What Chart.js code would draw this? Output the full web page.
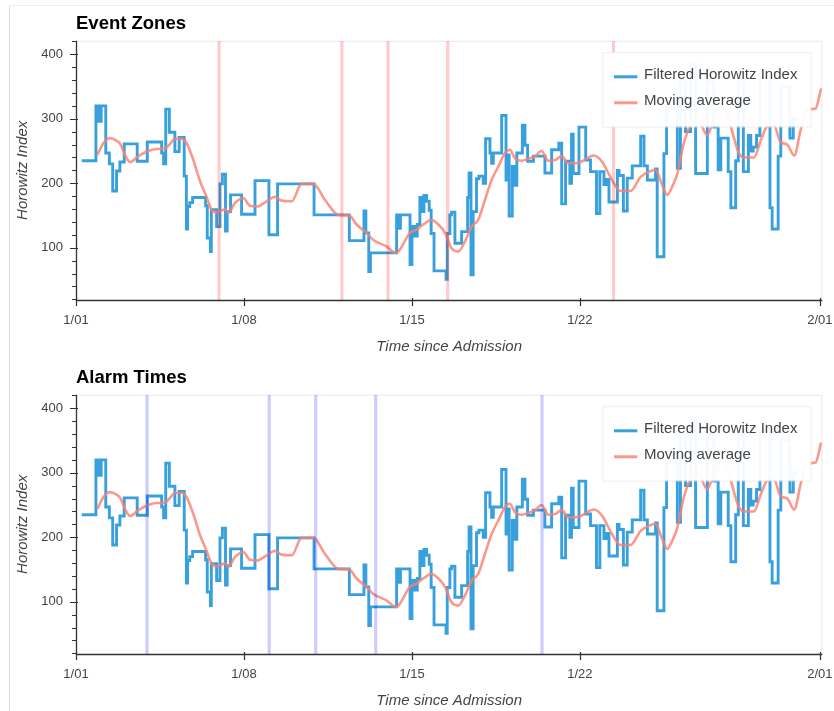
<!DOCTYPE html>
<html><head><meta charset="utf-8">
<script src="https://cdn.jsdelivr.net/npm/chart.js@4.4.1/dist/chart.umd.min.js"></script>
<style>
html,body{margin:0;padding:0;background:#fff;width:834px;height:711px;overflow:hidden;}
.frame{position:absolute;left:9px;top:5px;width:830px;height:720px;border-left:1px solid #ddd;border-top:1px solid #eee;}
.box{position:absolute;left:0;width:834px;height:354px;}
canvas{display:block;}
</style></head><body>
<div class="frame"></div>
<div class="box" style="top:0"><canvas id="c1" width="834" height="354"></canvas></div>
<div class="box" style="top:354px"><canvas id="c2" width="834" height="354"></canvas></div>
<script>
// Filtered Horowitz Index: step series (day since 1/01, value starting at that day)
const hiDays = [0.24,0.83,0.94,1.05,1.24,1.39,1.53,1.69,1.83,2.01,2.55,2.97,3.57,3.65,3.74,3.89,4.12,4.30,4.51,4.60,4.65,4.74,4.86,5.40,5.47,5.60,5.64,5.86,6.00,6.10,6.23,6.30,6.44,6.90,7.46,8.04,8.40,9.92,11.39,12.00,12.08,12.20,12.27,13.36,13.45,13.52,13.92,14.00,14.10,14.22,14.33,14.42,14.50,14.61,14.72,14.80,14.92,15.42,15.47,15.58,15.65,15.79,16.07,16.32,16.38,16.46,16.55,16.69,16.79,16.97,17.07,17.25,17.32,17.39,17.74,17.92,17.99,18.05,18.18,18.29,18.37,18.60,18.71,18.82,19.06,19.54,19.82,20.12,20.24,20.40,20.58,20.65,20.72,20.96,21.24,21.44,21.69,21.83,22.00,22.11,22.21,22.56,22.63,22.81,22.97,23.18,23.53,23.67,23.81,24.15,24.22,24.50,24.61,25.06,25.19,25.40,25.61,25.82,26.31,26.58,26.76,26.87,27.18,27.29,27.49,27.60,27.81,28.02,28.12,28.22,28.36,28.50,28.92,29.01,29.26,29.37,29.75,29.89,30.10];
const hiValues = [235,320,296,320,247,230,188,219,233,261,234,264,247,230,315,279,249,271,211,129,164,170,178,165,115,94,159,133,199,214,126,156,182,152,204,120,199,151,111,157,123,63,92,151,130,151,74,133,118,136,178,156,181,172,158,122,64,51,122,151,155,107,125,178,216,58,156,207,211,200,269,247,231,247,305,205,244,149,226,197,247,290,259,234,242,216,252,262,168,234,200,276,215,287,236,218,153,218,198,206,171,220,212,157,208,227,273,227,205,222,86,246,316,223,360,280,385,215,360,287,221,270,218,162,235,360,218,274,250,256,274,365,162,129,242,350,270,300,300];
// Moving average
const maDays = [0.89,1.14,1.39,1.69,1.86,2.04,2.25,2.60,3.01,3.36,3.71,3.92,4.12,4.40,4.61,4.89,5.17,5.45,5.65,5.86,6.00,6.21,6.35,6.62,6.97,7.25,7.53,7.95,8.29,8.57,8.99,9.40,9.89,10.38,10.93,11.39,11.69,12.11,12.39,12.94,13.33,13.92,14.19,14.47,14.82,15.10,15.38,15.65,15.93,16.21,16.49,16.76,17.04,17.32,17.60,17.88,18.08,18.29,18.57,18.85,19.13,19.40,19.68,19.96,20.24,20.51,20.79,21.03,21.58,21.93,22.28,22.69,23.11,23.53,23.88,24.15,24.40,24.64,24.85,25.06,25.33,25.61,25.90,26.30,26.60,26.90,27.20,27.42,27.63,27.90,28.25,28.55,28.80,29.08,29.36,29.64,29.93,30.20,30.45,30.82,31.05];
const maValues = [244,262,270,266,260,244,233,242,250,253,254,261,269,269,262,236,203,178,159,155,156,160,154,169,177,165,164,172,179,173,172,199,199,174,151,150,136,123,112,102,92,123,128,136,143,136,123,99,94,110,133,143,174,205,226,247,252,239,235,238,242,250,235,236,242,231,231,233,243,233,209,188,188,210,218,221,200,182,195,215,262,290,300,275,300,318,300,270,246,240,240,268,288,290,264,260,243,283,314,316,347];
// Vertical markers (day since 1/01)
const eventZoneDays = [5.96,11.08,13.00,15.49,22.40];
const alarmDays = [2.96,8.05,9.99,12.49,19.42];
// Axis ticks
const xTickDays = [0,7,14,21,31];
const xTickLabels = ['1/01','1/08','1/15','1/22','2/01'];
const yMajorTicks = [100,200,300,400];
const yMinorTicks = [20,40,60,80,120,140,160,180,220,240,260,280,320,340,360,380,420];
const seriesNames = ['Filtered Horowitz Index','Moving average'];

const FONT = '"Liberation Sans", Arial, Helvetica, sans-serif';
Chart.defaults.font.family = FONT;
const BLUE = '#38a0dc';
const SALMON = 'rgba(250,128,114,0.82)';

const decor = {
  id: 'decor',
  beforeDatasetsDraw(chart) {
    const {ctx, chartArea: a} = chart;
    ctx.save();
    ctx.strokeStyle = '#e8e8e8'; ctx.lineWidth = 1;
    ctx.strokeRect(a.left + 0.5, a.top + 0.5, a.right - a.left - 1, a.bottom - a.top);
    ctx.restore();
  },
  afterDatasetsDraw(chart, args, o) {
    const {ctx, chartArea: a, scales: {x}} = chart;
    ctx.save();
    ctx.beginPath(); ctx.rect(a.left, a.top, a.right - a.left, a.bottom - a.top); ctx.clip();
    ctx.strokeStyle = o.zoneColor; ctx.lineWidth = 3.2;
    o.zones.forEach(d => {
      const px = x.getPixelForValue(d);
      ctx.beginPath(); ctx.moveTo(px, a.top); ctx.lineTo(px, a.bottom); ctx.stroke();
    });
    ctx.restore();
  },
  afterDraw(chart, args, o) {
    const {ctx, chartArea: a, scales: {x, y}} = chart;
    ctx.save();
    ctx.strokeStyle = '#333'; ctx.lineWidth = 1.3;
    ctx.beginPath();
    ctx.moveTo(a.left, a.bottom + 0.5); ctx.lineTo(a.right, a.bottom + 0.5);
    ctx.moveTo(a.left + 0.5, a.top); ctx.lineTo(a.left + 0.5, a.bottom + 1);
    ctx.stroke();
    ctx.lineWidth = 1.2;
    ctx.beginPath();
    xTickDays.forEach(d => { const px = Math.round(x.getPixelForValue(d)) + 0.5; ctx.moveTo(px, a.bottom - 2); ctx.lineTo(px, a.bottom + 6); });
    yMajorTicks.forEach(v => { const py = Math.round(y.getPixelForValue(v)) + 0.5; ctx.moveTo(a.left - 6, py); ctx.lineTo(a.left + 2, py); });
    yMinorTicks.forEach(v => { const py = Math.round(y.getPixelForValue(v)) + 0.5; ctx.moveTo(a.left - 4, py); ctx.lineTo(a.left, py); });
    ctx.stroke();
    ctx.fillStyle = '#000'; ctx.font = 'bold 18.5px ' + FONT; ctx.textBaseline = 'alphabetic'; ctx.textAlign = 'left';
    ctx.fillText(o.title, a.left, 29);
    const lx = a.right - 220, ly = a.top + 11.6, lw = 208.4, lh = 74.4;
    ctx.fillStyle = 'rgba(255,255,255,0.95)';
    ctx.fillRect(lx, ly, lw, lh);
    ctx.strokeStyle = 'rgba(229,229,229,0.6)'; ctx.lineWidth = 1;
    ctx.strokeRect(lx + 0.5, ly + 0.5, lw, lh);
    const items = [[seriesNames[0], BLUE], [seriesNames[1], SALMON]];
    ctx.font = '15px ' + FONT; ctx.textBaseline = 'middle';
    items.forEach((it, i) => {
      const yy = ly + 24.5 + i * 26;
      ctx.strokeStyle = it[1]; ctx.lineWidth = 3;
      ctx.beginPath(); ctx.moveTo(lx + 11.7, yy); ctx.lineTo(lx + 35, yy); ctx.stroke();
      ctx.fillStyle = '#444';
      ctx.fillText(it[0], lx + 41.7, yy - 1.5);
    });
    ctx.restore();
  }
};

function makeChart(id, title, zones, zoneColor) {
  return new Chart(document.getElementById(id), {
    type: 'line',
    data: {
      datasets: [
        { label: seriesNames[0], data: hiDays.map((d, i) => ({x: d, y: hiValues[i]})), stepped: true,
          borderColor: BLUE, borderWidth: 2.9, pointRadius: 0, fill: false, order: 2 },
        { label: seriesNames[1], data: maDays.map((d, i) => ({x: d, y: maValues[i]})),
          borderColor: SALMON, borderWidth: 2.6, pointRadius: 0, fill: false, cubicInterpolationMode: 'monotone', order: 1 }
      ]
    },
    options: {
      responsive: false, animation: false, events: [],
      layout: { padding: { top: 40.7, right: 11.7, left: 0, bottom: 0 } },
      plugins: { legend: { display: false }, tooltip: { enabled: false }, title: { display: false },
        decor: { title: title, zones: zones, zoneColor: zoneColor } },
      scales: {
        x: { type: 'linear', min: 0, max: 31.1,
          afterBuildTicks: s => { s.ticks = xTickDays.map(v => ({value: v})); },
          ticks: { callback: v => xTickLabels[xTickDays.indexOf(v)], font: {size: 13}, color: '#444', padding: 12.5, maxRotation: 0, autoSkip: false },
          grid: { display: false, drawTicks: false }, border: { display: false },
          title: { display: true, text: 'Time since Admission', font: {size: 15, style: 'italic', lineHeight: 1}, color: '#444', padding: {top: 0, bottom: 0} },
          afterFit: s => { s.height = 54; s.paddingLeft = 0; s.paddingRight = 0; } },
        y: { type: 'linear', min: 18.9, max: 421.1,
          afterBuildTicks: s => { s.ticks = yMajorTicks.map(v => ({value: v})); },
          ticks: { font: {size: 13}, color: '#444', padding: 13 },
          grid: { display: false, drawTicks: false }, border: { display: false },
          title: { display: true, text: 'Horowitz Index', font: {size: 15, style: 'italic', lineHeight: 1}, color: '#444', padding: {top: 15.5, bottom: 0} },
          afterFit: s => { s.width = 76; s.paddingTop = 0; s.paddingBottom = 0; } }
      }
    },
    plugins: [decor]
  });
}
makeChart('c1', 'Event Zones', eventZoneDays, 'rgba(255,0,0,0.2)');
makeChart('c2', 'Alarm Times', alarmDays, 'rgba(0,0,255,0.2)');
</script>
</body></html>
